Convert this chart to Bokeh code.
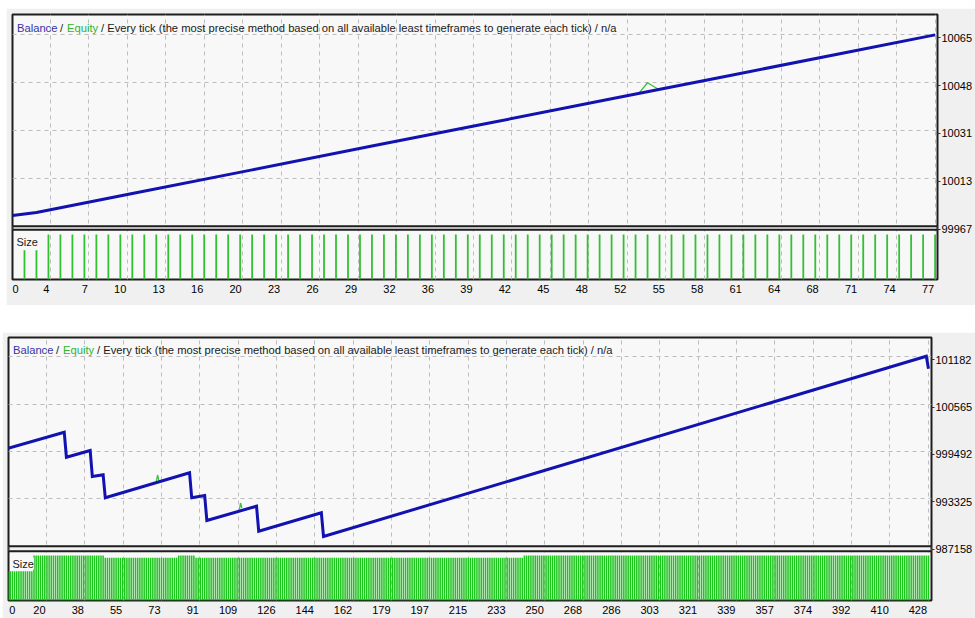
import numpy as np
from bokeh.plotting import figure
from bokeh.models import (FixedTicker, CustomJSTickFormatter, Range1d, BoxAnnotation,
                          Label, Spacer)
from bokeh.layouts import column, row
from bokeh.embed import file_html
from bokeh.resources import INLINE

# ---------------- data: upper test (78 deals) ----------------
a_balance_deal = [0, 2, 10, 20, 30, 40, 50, 60, 70, 77]
a_balance_value = [10000.5, 10001.6, 10008.4, 10016.8, 10025.3, 10033.7, 10042.2, 10050.6, 10059.1, 10065.0]
a_equity_deal = [52.3, 53.0, 53.9]
a_equity_value = [10044.3, 10047.9, 10045.6]
a_size_runs = [(1, 2, 0.13), (3, 77, 0.20)]          # (first deal, last deal, lots)
a_y_ticks = [9996.7, 10013.8, 10030.9, 10048.0, 10065.1]
a_y_labels = ["99967", "10013", "10031", "10048", "10065"]
a_x_labels = ["0", "4", "7", "10", "13", "16", "20", "23", "26", "29", "32", "36", "39",
              "42", "45", "48", "52", "55", "58", "61", "64", "68", "71", "74", "77"]

# ---------------- data: lower test (428 deals) ----------------
b_balance_deal = [2, 28, 29, 40, 41, 46, 47, 86, 87, 93, 94, 117, 118, 147, 148, 427, 428]
b_balance_value = [9999.2, 10020.0, 9987.5, 9996.2, 9962.4, 9964.6, 9934.6, 9967.2, 9934.6,
                   9937.6, 9905.1, 9923.7, 9891.1, 9915.1, 9884.2, 10119.0, 10102.6]
b_equity_deal = [[70.6, 71.2, 71.8], [109.1, 109.6, 110.2]]
b_equity_value = [[9955.8, 9964.3, 9957.1], [9919.4, 9927.8, 9921.3]]
b_size_runs = [(1, 13, 0.13), (14, 46, 0.20), (47, 80, 0.19), (81, 88, 0.20),
               (89, 240, 0.19), (241, 428, 0.20)]
b_y_ticks = [9871.58, 9933.25, 9994.92, 10056.59, 10118.26]
b_y_labels = ["987158", "993325", "999492", "100565", "101182"]
b_x_labels = ["0", "20", "38", "55", "73", "91", "109", "126", "144", "162", "179", "197",
              "215", "233", "250", "268", "286", "303", "321", "339", "357", "374", "392",
              "410", "428"]

TITLE_PARTS = [("Balance", "#3434a6"), ("/", "#222222"), ("Equity", "#2fb52f"),
               ("/ Every tick (the most precise method based on all available least timeframes to generate each tick) / n/a", "#1a1a1a")]

# ---------------- styling ----------------
BAL_COLOR = "#1212b0"
EQ_COLOR = "#36c236"
GRID_COLOR = "#bdbdbd"
FONT = "Liberation Sans"


def expand_runs(runs):
    xs, hs = [], []
    for first, last, lot in runs:
        for d in range(first, last + 1):
            xs.append(d)
            hs.append(lot)
    return xs, hs


def label_formatter(positions, labels):
    return CustomJSTickFormatter(args=dict(pos=list(positions), labels=list(labels)), code="""
        let best = 0, d = 1e12;
        for (let i = 0; i < pos.length; i++) {
            const e = Math.abs(pos[i] - tick);
            if (e < d) { d = e; best = i; }
        }
        return labels[best];
    """)


def panel(width, height, mb_left, mb_right, mb_top, mb_bottom, x_rng, y_rng, size_rng,
          gap_px, frame_h, grid_x, first_label_x, x_labels, x_standoff, y_ticks, y_labels,
          bal_x, bal_y, eq_x, eq_y, size_runs, bar_w, bar_color, size_label_y, title_y):
    p = figure(width=width, height=height, x_range=Range1d(*x_rng), y_range=Range1d(*y_rng),
               y_axis_location="right", output_backend="svg", toolbar_location=None,
               min_border_left=mb_left, min_border_right=mb_right,
               min_border_top=mb_top, min_border_bottom=mb_bottom,
               background_fill_color="#f8f8f8", border_fill_color="#f0f0f0",
               outline_line_color="#1e1e1e", outline_line_width=2)
    p.extra_y_ranges = {"size": Range1d(*size_rng)}

    frame_w = width - mb_left - mb_right
    kx = frame_w / (x_rng[1] - x_rng[0])
    upp = (y_rng[1] - y_rng[0]) / frame_h

    # grids
    p.xgrid.ticker = FixedTicker(ticks=list(grid_x))
    p.ygrid.ticker = FixedTicker(ticks=list(y_ticks[1:]))
    for g in (p.xgrid, p.ygrid):
        g.grid_line_color = GRID_COLOR
        g.grid_line_dash = "4 4"
        g.grid_line_width = 1

    # x axis labels (right edge of each label sits at its gridline)
    lab_pos = [first_label_x]
    for gx, lab in zip(grid_x, x_labels[1:]):
        lab_pos.append(gx - (1 + 3.05 * len(lab)) / kx)
    xa = p.xaxis[0]
    xa.ticker = FixedTicker(ticks=lab_pos)
    xa.formatter = label_formatter(lab_pos, x_labels)
    xa.axis_line_color = None
    xa.major_tick_line_color = None
    xa.minor_tick_line_color = None
    xa.major_tick_out = 0
    xa.minor_tick_out = 0
    xa.axis_label_standoff = 0
    xa.major_label_standoff = x_standoff
    xa.major_label_text_font = FONT
    xa.major_label_text_font_size = "11px"
    xa.major_label_text_color = "#000000"

    # y axis labels (slightly below gridlines as in the original)
    ypos = [v - 3 * upp for v in y_ticks]
    ya = p.yaxis[0]
    ya.ticker = FixedTicker(ticks=ypos)
    ya.formatter = label_formatter(ypos, y_labels)
    ya.axis_line_color = None
    ya.major_tick_out = 3
    ya.major_tick_in = 0
    ya.minor_tick_out = 0
    ya.minor_tick_in = 0
    ya.axis_label_standoff = 0
    ya.major_tick_line_color = "#333333"
    ya.minor_tick_line_color = None
    ya.major_label_standoff = 1
    ya.major_label_text_font = FONT
    ya.major_label_text_font_size = "11px"
    ya.major_label_text_color = "#000000"

    # size bars
    sx, sh = expand_runs(size_runs)
    p.vbar(x=sx, top=sh, bottom=0, width=bar_w, y_range_name="size",
           fill_color=bar_color, line_color=None)

    # equity below balance
    if isinstance(eq_x[0], list):
        p.multi_line(xs=eq_x, ys=eq_y, line_color=EQ_COLOR, line_width=1.3)
    else:
        p.line(eq_x, eq_y, line_color=EQ_COLOR, line_width=1.3)
    p.line(bal_x, bal_y, line_color=BAL_COLOR, line_width=3, line_join="miter")

    # separator between balance panel and size panel
    top_v = y_ticks[0]
    p.add_layout(BoxAnnotation(top=top_v, bottom=top_v - gap_px * upp,
                               fill_color="#f0f0f0", fill_alpha=1.0,
                               line_color="#1e1e1e", line_width=2, line_alpha=1.0))

    # title pieces
    offsets = [4.5, 47.5, 54.5, 88.5]
    for (txt, col), off in zip(TITLE_PARTS, offsets):
        p.add_layout(Label(x=off, y=title_y, x_units="screen", y_units="screen", text=txt,
                           text_color=col, text_font=FONT, text_font_size="11.2px",
                           text_baseline="middle"))
    p.add_layout(Label(x=4, y=size_label_y, x_units="screen", y_units="screen", text="Size",
                       text_color="#1a1a1a", text_font=FONT, text_font_size="11px",
                       text_baseline="middle", background_fill_color="#f8f8f8",
                       background_fill_alpha=1.0))
    return p


# ---- upper chart (page x 6..975, y 8..305) ----
A_FRAME_H = 265
a_upp = 0.357
a_y_rng = (9996.7 - 53.3 * a_upp, 9996.7 + 211.7 * a_upp)
pa = panel(width=969, height=297, mb_left=6, mb_right=36, mb_top=6, mb_bottom=26,
           x_rng=(0.0, 77.2), y_rng=a_y_rng, size_rng=(0, 0.2 * A_FRAME_H / 45.0),
           gap_px=3.6, frame_h=A_FRAME_H, grid_x=np.linspace(3.16, 77.0, 24),
           first_label_x=0.25, x_labels=a_x_labels, x_standoff=5,
           y_ticks=a_y_ticks, y_labels=a_y_labels,
           bal_x=a_balance_deal, bal_y=a_balance_value, eq_x=a_equity_deal, eq_y=a_equity_value,
           size_runs=a_size_runs, bar_w=0.15, bar_color="#33c033",
           size_label_y=38, title_y=252)

# ---- lower chart (page x 2..975, y 332..618) ----
B_FRAME_H = 263
b_upp = 1.3024
b_y_rng = (9871.58 - 54.3 * b_upp, 9871.58 + 208.7 * b_upp)
pb = panel(width=973, height=286, mb_left=6, mb_right=40, mb_top=5, mb_bottom=18,
           x_rng=(2.2, 429.4), y_rng=b_y_rng, size_rng=(0, 0.2 * B_FRAME_H / 45.0),
           gap_px=5.0, frame_h=B_FRAME_H, grid_x=np.linspace(19.8, 427.8, 24),
           first_label_x=3.95, x_labels=b_x_labels, x_standoff=5,
           y_ticks=b_y_ticks, y_labels=b_y_labels,
           bal_x=b_balance_deal, bal_y=b_balance_value, eq_x=b_equity_deal, eq_y=b_equity_value,
           size_runs=b_size_runs, bar_w=0.7, bar_color="#1ec41e",
           size_label_y=37, title_y=251)

layout = column(Spacer(width=975, height=8),
                row(Spacer(width=6, height=297), pa),
                Spacer(width=975, height=27),
                row(Spacer(width=2, height=286), pb))
open("out.html", "w").write(file_html(layout, INLINE))
